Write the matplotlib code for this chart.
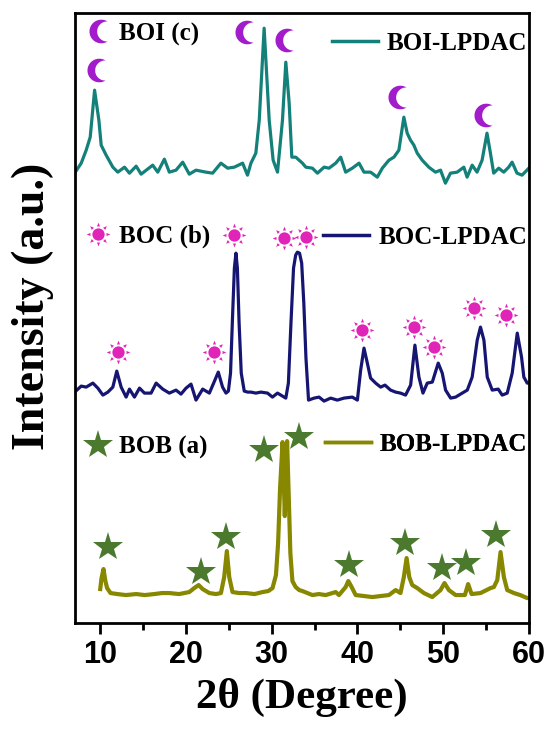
import numpy as np
import matplotlib
matplotlib.use("Agg")
import matplotlib.pyplot as plt
from matplotlib.path import Path
from matplotlib.lines import Line2D

# ---------------- data ----------------
boi_x = [7.01, 7.78, 8.36, 8.83, 9.34, 9.84, 10.11, 10.69, 11.47, 12.05, 12.83, 13.41, 14.19, 14.77,
         16.12, 16.71, 17.48, 18.06, 18.84, 19.62, 20.39, 21.17, 22.33, 23.11, 24.08, 24.86, 25.64,
         26.61, 27.18, 27.58, 28.15, 28.55, 29.12, 29.71, 30.17, 30.68, 31.26, 31.65, 32.04, 32.35,
         32.81, 33.59, 33.98, 34.75, 35.34, 36.11, 36.69, 37.47, 38.05, 38.63, 39.41, 40.19, 40.77,
         41.54, 42.32, 42.91, 43.68, 44.26, 44.84, 45.42, 45.81, 46.20, 46.59, 46.98, 47.56, 48.33,
         49.11, 49.70, 50.27, 50.86, 51.64, 52.42, 52.80, 53.39, 53.96, 54.55, 55.12, 55.52, 55.90,
         56.49, 57.07, 57.65, 58.05, 58.62, 59.21, 59.78, 60.0]
boi_y = [450, 460, 473, 486, 533, 503, 478, 468, 456, 451, 456, 450, 457, 449,
         458, 451, 464, 451, 453, 461, 449, 453, 451, 450, 460, 455, 456,
         460, 448, 460, 470, 503, 595, 503, 463, 451, 503, 561, 520, 466,
         466, 460, 456, 455, 450, 456, 455, 460, 466, 451, 455, 460, 451,
         451, 446, 455, 463, 466, 473, 506, 490, 483, 478, 470, 463, 456,
         451, 453, 440, 450, 451, 456, 446, 458, 451, 463, 490, 470, 450,
         455, 451, 456, 461, 450, 448, 453, 455]

boc_x = [7.01, 7.78, 8.36, 9.14, 9.72, 10.31, 10.89, 11.47, 11.93, 12.44, 13.02, 13.41, 13.99, 14.58,
         15.16, 15.93, 16.52, 17.29, 18.06, 18.84, 19.42, 20.01, 20.59, 21.17, 21.95, 22.73, 23.23,
         23.77, 24.27, 24.67, 24.95, 25.20, 25.45, 25.65, 25.83, 26.00, 26.20, 26.45, 26.80, 27.20,
         27.58, 28.15, 28.74, 29.52, 30.09, 30.68, 31.65, 31.95, 32.25, 32.55, 32.80, 33.00, 33.25,
         33.50, 33.75, 34.00, 34.30, 34.95, 35.53, 36.11, 36.88, 37.66, 38.44, 39.41, 40.00, 40.38,
         40.77, 41.16, 41.54, 42.13, 42.71, 43.22, 43.87, 44.46, 45.03, 45.62, 46.21, 46.71, 47.18,
         47.65, 48.15, 48.74, 49.43, 49.90, 50.29, 50.88, 51.46, 52.23, 52.82, 53.39, 53.98, 54.36,
         54.76, 55.15, 55.73, 56.43, 56.89, 57.48, 58.06, 58.65, 59.15, 59.42, 59.81, 60.0]
boc_y = [231, 237, 236, 240, 235, 228, 231, 236, 252, 236, 226, 234, 226, 235,
         230, 230, 240, 234, 230, 233, 229, 235, 239, 223, 234, 230, 240,
         251, 236, 230, 232, 250, 310, 355, 370, 355, 300, 250, 232, 231,
         231, 230, 231, 230, 226, 230, 225, 240, 300, 355, 368, 371, 370,
         360, 320, 265, 223, 225, 226, 222, 225, 223, 225, 226, 223, 253,
         275, 260, 245, 240, 236, 238, 233, 231, 230, 228, 238, 278, 246,
         230, 240, 241, 260, 250, 233, 225, 226, 230, 233, 246, 283, 296,
         283, 246, 233, 234, 228, 230, 250, 290, 266, 246, 240, 240]

bob_x = [10.00, 10.15, 10.38, 10.60, 10.80, 11.20, 12.00, 13.00, 14.19, 15.20, 16.30, 17.20, 18.06,
         19.20, 20.39, 20.97, 21.48, 21.95, 22.73, 23.50, 24.08, 24.46, 24.77, 25.05, 25.43, 26.20,
         26.99, 28.00, 28.93, 29.60, 30.10, 30.50, 30.75, 30.98, 31.27, 31.42, 31.53, 31.64, 31.80,
         31.98, 32.18, 32.42, 32.80, 33.21, 33.59, 34.75, 35.50, 36.30, 37.47, 37.85, 38.63, 38.94,
         39.33, 39.80, 40.80, 41.74, 42.70, 43.68, 44.46, 45.03, 45.42, 45.74, 46.05, 46.40, 46.98,
         47.76, 48.74, 49.70, 50.16, 50.67, 51.46, 52.54, 52.92, 53.32, 54.36, 55.54, 55.92, 56.32,
         56.70, 57.09, 57.48, 58.26, 59.00, 59.81, 60.0]
bob_y = [34, 45, 54, 42, 35, 30, 29, 28, 29, 28, 29, 30, 30,
         29, 31, 35, 38, 34, 30, 29, 30, 46, 72, 46, 31, 30,
         30, 29, 31, 32, 35, 48, 80, 135, 181, 140, 107, 140, 182,
         130, 70, 42, 36, 33, 32, 28, 29, 28, 31, 28, 36, 42,
         36, 28, 27, 26, 27, 28, 33, 30, 46, 65, 46, 38, 35,
         30, 26, 33, 40, 33, 28, 28, 39, 29, 30, 35, 36, 43,
         71, 46, 33, 30, 28, 25, 25]

# phase markers (2theta, intensity)
moon_x = [9.54, 26.82, 31.47, 44.65, 54.66]
moon_y = [553, 591, 583, 526, 508]
sun_x = [12.05, 23.30, 25.64, 31.46, 34.06, 40.58, 46.59, 48.92, 53.58, 57.34]
sun_y = [271, 271, 388, 385, 386, 293, 296, 276, 315, 308]
star_x = [10.89, 21.76, 24.67, 29.12, 33.21, 39.03, 45.55, 49.82, 52.68, 56.18]
star_y = [76, 51, 86, 173, 186, 58, 80, 55, 60, 88]

x_ticks = [10, 20, 30, 40, 50, 60]
series_labels = ["BOI-LPDAC", "BOC-LPDAC", "BOB-LPDAC"]
phase_labels = ["BOI (c)", "BOC (b)", "BOB (a)"]

# ---------------- styling ----------------
C_BOI = "#14807a"
C_BOC = "#161672"
C_BOB = "#878700"
C_MOON = "#a21ccb"
C_SUN = "#e024b8"
C_STAR = "#4b7a2f"
SERIF = "Liberation Serif"
SANS = "Liberation Sans"


def crescent_path():
    c, r2 = 0.5, 0.85
    xi = (1 + c * c - r2 * r2) / (2 * c)
    yi = np.sqrt(1 - xi * xi)
    a1 = np.degrees(np.arctan2(yi, xi))
    b1 = np.degrees(np.arctan2(yi, xi - c))
    ao = np.radians(np.linspace(a1, 360 - a1, 60))
    ai = np.radians(np.linspace(360 - b1, b1, 60))
    outer = np.column_stack([np.cos(ao), np.sin(ao)])
    inner = np.column_stack([c + r2 * np.cos(ai), r2 * np.sin(ai)])
    verts = np.vstack([outer, inner, outer[:1]])
    codes = [Path.MOVETO] + [Path.LINETO] * (len(verts) - 2) + [Path.CLOSEPOLY]
    verts = verts - [(verts[:, 0].max() + verts[:, 0].min()) / 2, 0]
    return Path(verts, codes)


def sun_path():
    parts = [Path.circle((0, 0), 0.52)]
    for k in range(8):
        a = np.radians(k * 45)
        u = np.array([np.cos(a), np.sin(a)])
        p = np.array([-np.sin(a), np.cos(a)])
        tri = [u * 1.0, u * 0.68 + p * 0.13, u * 0.68 - p * 0.13, u * 1.0]
        parts.append(Path(tri, [Path.MOVETO, Path.LINETO, Path.LINETO, Path.CLOSEPOLY]))
    return Path.make_compound_path(*parts)


MOON = crescent_path()
SUN = sun_path()

fig = plt.figure(figsize=(5.5, 7.33), dpi=100)
ax = fig.add_axes([0.1355, 0.150, 0.826, 0.832])

ax.plot(boi_x, boi_y, color=C_BOI, lw=2.3, zorder=2)
ax.plot(boc_x, boc_y, color=C_BOC, lw=2.3, zorder=2)
ax.plot(bob_x, bob_y, color=C_BOB, lw=3.0, zorder=2)

ax.plot(moon_x, moon_y, ls="none", marker=MOON, ms=17, color=C_MOON, mew=0, zorder=3)
ax.plot(sun_x, sun_y, ls="none", marker=SUN, ms=17, color=C_SUN, mew=0, zorder=3)
ax.plot(star_x, star_y, ls="none", marker="*", ms=22, color=C_STAR, mew=0, zorder=3)

ax.set_xlim(7.0, 60.0)
ax.set_ylim(0, 610)
ax.set_yticks([])
ax.set_xticks(x_ticks)
ax.set_xticks([15, 25, 35, 45, 55], minor=True)
ax.tick_params(axis="x", which="major", direction="out", length=8, width=2, pad=4)
ax.tick_params(axis="x", which="minor", direction="out", length=5, width=2)
for lab in ax.get_xticklabels():
    lab.set_fontfamily(SANS)
    lab.set_fontweight("bold")
    lab.set_fontsize(22)
for s in ax.spines.values():
    s.set_linewidth(2)

ax.set_xlabel("2θ (Degree)", fontfamily=SERIF, fontweight="bold", fontsize=31, labelpad=6)
ax.set_ylabel("Intensity (a.u.)", fontfamily=SERIF, fontweight="bold", fontsize=33)
ax.yaxis.set_label_coords(-0.045, 0.52)

fprop = {"family": SERIF, "weight": "bold", "size": 18}

# left phase legends
left_specs = [
    (Line2D([], [], ls="none", marker=MOON, ms=17, color=C_MOON, mew=0), phase_labels[0], 0.966),
    (Line2D([], [], ls="none", marker=SUN, ms=17, color=C_SUN, mew=0), phase_labels[1], 0.634),
    (Line2D([], [], ls="none", marker="*", ms=22, color=C_STAR, mew=0), phase_labels[2], 0.288),
]
for h, lab, yy in left_specs:
    lg = ax.legend([h], [lab], loc="center left", bbox_to_anchor=(0.015, yy), frameon=False,
                   prop=fprop, handlelength=1.3, handletextpad=0.2, borderpad=0, borderaxespad=0)
    ax.add_artist(lg)

# right series legends
right_specs = [
    (C_BOI, series_labels[0], 0.951),
    (C_BOC, series_labels[1], 0.632),
    (C_BOB, series_labels[2], 0.293),
]
for col, lab, yy in right_specs:
    lg = ax.legend([Line2D([], [], color=col, lw=2.5)], [lab], loc="center right",
                   bbox_to_anchor=(0.996, yy), frameon=False, prop=fprop,
                   handlelength=1.85, handletextpad=0.35, borderpad=0, borderaxespad=0)
    ax.add_artist(lg)

fig.savefig("out.png", dpi=100)
